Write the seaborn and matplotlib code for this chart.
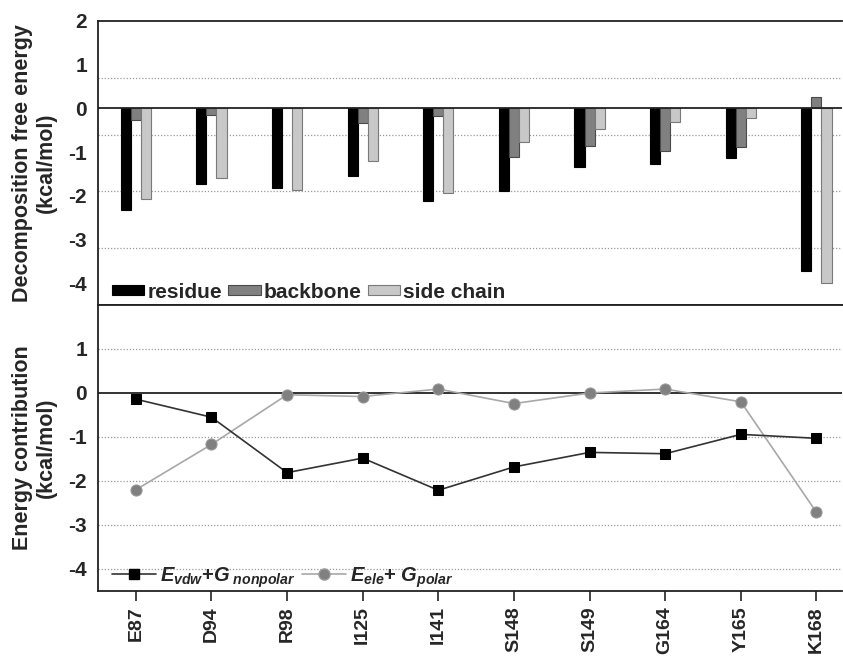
import numpy as np
import pandas as pd
import matplotlib
matplotlib.use("Agg")
import matplotlib.pyplot as plt
import seaborn as sns
from matplotlib.patches import Patch
from matplotlib.lines import Line2D

residues = ["E87", "D94", "R98", "I125", "I141", "S148", "S149", "G164", "Y165", "K168"]
residue_energy = [-2.33, -1.73, -1.83, -1.54, -2.12, -1.90, -1.34, -1.27, -1.14, -3.72]
backbone_energy = [-0.26, -0.14, 0.02, -0.33, -0.17, -1.12, -0.86, -0.97, -0.88, 0.27]
sidechain_energy = [-2.07, -1.59, -1.87, -1.20, -1.94, -0.78, -0.48, -0.31, -0.23, -4.00]
vdw_nonpolar = [-0.14, -0.55, -1.81, -1.48, -2.21, -1.68, -1.35, -1.38, -0.94, -1.03]
ele_polar = [-2.20, -1.17, -0.04, -0.08, 0.09, -0.24, 0.00, 0.09, -0.20, -2.71]
bar_labels = ["residue", "backbone", "side chain"]
top_yticks = [2, 1, 0, -1, -2, -3, -4]
bottom_yticks = [1, 0, -1, -2, -3, -4]
top_grid = [0.7, -0.6, -1.9, -3.2]
bottom_grid = [1, -1, -2, -3, -4]

sns.set_style("white")
plt.rcParams["font.family"] = ["Liberation Sans", "DejaVu Sans"]
plt.rcParams["font.weight"] = "bold"
plt.rcParams["mathtext.fontset"] = "custom"
plt.rcParams["mathtext.it"] = "Liberation Sans:bold:italic"
plt.rcParams["mathtext.rm"] = "Liberation Sans:bold"
plt.rcParams["mathtext.bf"] = "Liberation Sans:bold"

fig = plt.figure(figsize=(8.43, 6.56), dpi=100)
W, H = 843, 656
ax1 = fig.add_axes([98 / W, 1 - 305 / H, (843 - 98) / W - 0.001, (305 - 21) / H])
ax2 = fig.add_axes([98 / W, 1 - 591 / H, (843 - 98) / W - 0.001, (591 - 305) / H])

bar_df = pd.DataFrame({
    "residue": residues * 3,
    "energy": residue_energy + backbone_energy + sidechain_energy,
    "part": [bar_labels[0]] * 10 + [bar_labels[1]] * 10 + [bar_labels[2]] * 10,
})
bar_colors = ["#000000", "#808080", "#c8c8c8"]
edge_colors = ["#000000", "#4a4a4a", "#7a7a7a"]

for y in top_grid:
    ax1.axhline(y, color="#9a9a9a", lw=0.9, ls=(0, (1, 1.5)), zorder=0)
sns.barplot(data=bar_df, x="residue", y="energy", hue="part", order=residues,
            hue_order=bar_labels, palette=bar_colors, width=0.4, gap=0,
            ax=ax1, legend=False, zorder=2)
for i, cont in enumerate(ax1.containers):
    for p in cont:
        p.set_edgecolor(edge_colors[i])
        p.set_linewidth(0.8)
ax1.axhline(0, color="#222222", lw=1.3, zorder=3)

ax1.set_xlim(-0.5, 9.34)
ax1.set_ylim(-4.5, 2.0)
ax1.set_yticks(top_yticks)
ax1.set_yticklabels([str(t) for t in top_yticks])
ax1.set_xticks([])
ax1.set_xlabel("")
ax1.set_ylabel("Decomposition free energy\n(kcal/mol)", fontsize=15.5, fontweight="bold", labelpad=8)
handles1 = [Patch(facecolor=c, edgecolor=e, lw=0.8) for c, e in zip(bar_colors, edge_colors)]
ax1.legend(handles1, bar_labels, loc="lower left", ncol=3, frameon=False,
           fontsize=15, handlelength=1.55, handleheight=0.4, handletextpad=0.15,
           columnspacing=0.3, borderaxespad=0.1, bbox_to_anchor=(0.005, -0.025))

line_df = pd.DataFrame({"pos": np.arange(len(residues)), "vdw": vdw_nonpolar, "ele": ele_polar})
for y in bottom_grid:
    ax2.axhline(y, color="#9a9a9a", lw=0.9, ls=(0, (1, 1.5)), zorder=0)
ax2.axhline(0, color="#222222", lw=1.3, zorder=1)
sns.lineplot(data=line_df, x="pos", y="ele", ax=ax2, color="#a8a8a8", lw=1.2,
             marker="o", markersize=8, markerfacecolor="#808080",
             markeredgecolor="#9a9a9a", zorder=3)
sns.lineplot(data=line_df, x="pos", y="vdw", ax=ax2, color="#333333", lw=1.2,
             marker="s", markersize=7, markerfacecolor="#000000",
             markeredgecolor="#000000", zorder=4)
ax2.set_xlim(-0.5, 9.34)
ax2.set_ylim(-4.5, 2.0)
ax2.set_yticks(bottom_yticks)
ax2.set_yticklabels([str(t) for t in bottom_yticks])
ax2.set_xticks(np.arange(len(residues)))
ax2.set_xticklabels(residues, rotation=90)
ax2.set_xlabel("")
ax2.set_ylabel("Energy contribution\n(kcal/mol)", fontsize=15.5, fontweight="bold", labelpad=8)
handles2 = [
    Line2D([], [], color="#333333", lw=1.2, marker="s", markersize=7,
           markerfacecolor="#000000", markeredgecolor="#000000"),
    Line2D([], [], color="#a8a8a8", lw=1.2, marker="o", markersize=8,
           markerfacecolor="#808080", markeredgecolor="#9a9a9a"),
]
labels2 = [r"$E_{vdw}$+$G_{\ nonpolar}$", r"$E_{ele}$+ $G_{polar}$"]
ax2.legend(handles2, labels2, loc="lower left", ncol=2, frameon=False,
           fontsize=14.5, handlelength=2.2, handletextpad=0.2, columnspacing=0.3,
           borderaxespad=0.1, bbox_to_anchor=(0.005, -0.03))

for ax in (ax1, ax2):
    ax.spines["right"].set_visible(False)
    for side in ("left", "top", "bottom"):
        ax.spines[side].set_visible(True)
        ax.spines[side].set_color("#222222")
        ax.spines[side].set_linewidth(1.3)
    ax.tick_params(axis="y", direction="out", length=5, width=1.2, color="#222222",
                   labelsize=15, pad=3)
    for lab in ax.get_yticklabels():
        lab.set_fontweight("bold")
ax2.tick_params(axis="x", direction="out", length=7, width=1.2, color="#222222",
                labelsize=14, pad=4, bottom=True)
for lab in ax2.get_xticklabels():
    lab.set_fontweight("bold")

fig.align_ylabels([ax1, ax2])
fig.savefig("out.png", dpi=100)
